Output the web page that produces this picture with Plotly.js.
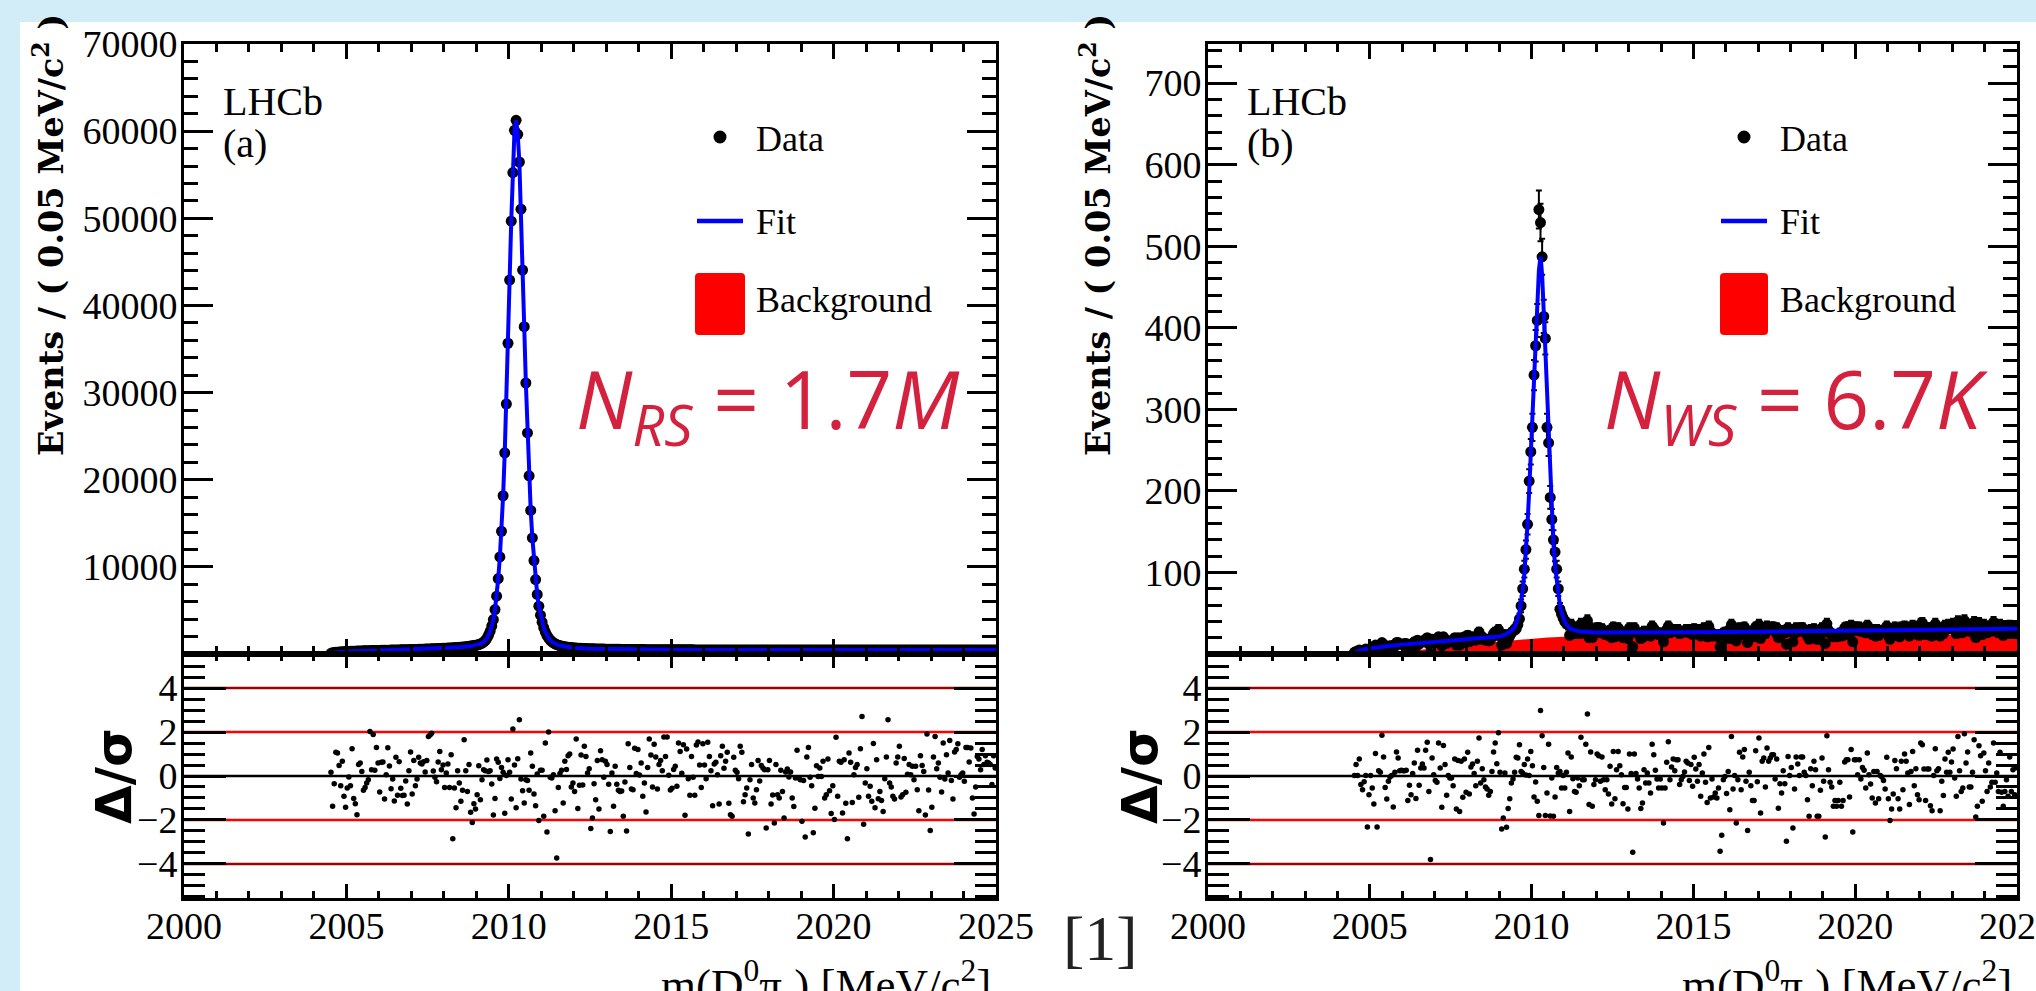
<!DOCTYPE html>
<html>
<head>
<meta charset="utf-8">
<script src="https://cdn.plot.ly/plotly-3.0.1.min.js"></script>
<style>
html,body{margin:0;padding:0;background:#ffffff;}
#chart{width:2036px;height:991px;}
</style>
</head>
<body>
<div id="chart"></div>
<script>
// ---------------- binning ----------------
const binStart = 2004.5;
const binWidth = 0.05;

// ---------------- axis ticks ----------------
const massTicks = [2000, 2005, 2010, 2015, 2020, 2025];
const rsTicks = [10000, 20000, 30000, 40000, 50000, 60000, 70000];
const wsTicks = [100, 200, 300, 400, 500, 600, 700];
const pullTicks = [-4, -2, 0, 2, 4];
const pullLines = [4, 2, 0, -2, -4];

// ---------------- (a) right-sign data (events per bin) ----------------
const dataRS = [
80,130,165,190,205,222,238,252,268,285,
292,300,305,312,320,325,333,340,345,352,
362,365,372,378,382,388,395,398,402,408,
412,418,422,428,433,438,442,448,452,458,
462,468,472,478,482,488,492,498,502,508,
512,518,525,530,536,543,550,556,562,568,
575,582,590,598,606,614,622,630,638,646,
655,665,676,688,700,712,724,736,748,762,
778,795,815,838,865,893,920,945,968,990,
1030,1080,1150,1240,1370,1550,1800,2150,2600,3200,
3950,5100,6630,8660,11140,14080,18160,23080,28690,35660,
42910,49670,55250,60090,61240,59630,56460,51040,44060,37560,
31100,25370,20450,16480,13320,10720,8540,6830,5490,4450,
3650,3020,2520,2130,1830,1600,1420,1280,1170,1080,
1010,955,905,865,830,800,775,752,732,715,
700,686,673,662,651,641,632,624,616,609,
602,596,590,585,580,575,571,567,563,559,
556,552,549,546,543,540,537,535,532,530,
527,525,523,521,519,517,515,513,511,510,
508,506,505,503,502,500,499,497,496,495,
494,492,491,490,489,488,487,486,485,484,
483,482,481,481,480,479,478,478,477,476,
476,475,474,474,473,473,472,471,471,470,
470,469,469,468,468,467,467,466,466,466,
465,465,464,464,464,463,463,463,462,462,
462,461,461,461,460,460,460,460,459,459,
459,459,459,459,459,459,459,459,459,459,
459,459,459,459,459,459,459,459,459,459,
458,458,458,458,458,458,458,458,458,458,
458,458,458,458,458,458,458,458,458,458,
458,458,458,458,458,458,458,458,458,458,
458,458,458,458,458,458,458,458,458,458,
458,458,458,458,458,458,458,458,458,458,
458,458,458,458,458,458,458,458,458,458,
458,458,458,458,458,458,458,458,458,458,
458,458,458,458,458,458,458,458,458,458,
458,458,458,458,458,458,458,458,458,458,
458,458,458,458,458,458,458,458,458,458,
458,458,458,458,458,458,458,458,458,458,
458,458,458,458,458,458,458,458,458,458,
458,458,458,458,458,458,458,458,458,458
];
const pullRS = [
0.17,-1.38,-0.35,1.08,1.05,0.48,-0.44,0.67,-0.92,
-1.42,-0.55,-0.05,-0.44,1.24,-1.02,-1.26,-1.76,0.52,0.59,
0.21,-0.65,-0.52,-0.32,-0.17,2.03,0.29,1.89,0.26,1.30,
0.59,-0.73,0.62,0.64,-1.05,0.06,1.29,0.45,-0.58,-0.14,
-1.14,0.85,-0.88,0.65,-0.56,-0.89,-0.88,-0.23,-1.27,0.24,
1.09,-0.82,0.71,-0.44,-0.14,0.85,0.59,0.55,0.65,0.18,
0.70,1.80,1.86,1.95,0.23,-0.06,-0.26,0.64,1.12,0.29,
0.50,-0.52,0.14,0.55,-0.52,0.97,-2.86,-0.55,-1.45,0.24,
-0.32,-1.15,-0.65,1.65,0.24,-0.71,0.52,-1.65,-2.11,-1.26,
-1.50,-0.85,0.47,-1.08,-0.17,0.29,0.24,0.73,0.21,0.24,
-0.36,-1.77,-1.02,0.77,0.62,-0.11,0.39,0.17,-1.70,0.02,
0.74,0.17,-1.05,2.14,0.50,-1.45,0.79,2.56,-0.14,-0.67,
-1.23,-0.17,-0.21,-0.65,1.05,0.44,-0.82,-1.35,0.09,-2.02,
0.26,0.26,-1.83,1.50,-2.55,2.0,
-0.06,-0.09,0.06,-1.58,-3.73,-0.52,0.11,0.26,-1.23,0.67,
0.30,0.92,1.00,-0.50,-0.32,-0.70,1.68,-1.48,-0.42,0.95,
-0.41,1.35,0.89,0.14,0.33,-2.39,-1.91,-0.35,-1.08,0.70,
-1.50,1.15,0.74,-0.06,0.67,0.52,-0.38,-2.53,0.14,-1.38,
0.44,-0.38,-0.65,-0.70,-0.68,-1.83,-0.27,-2.50,1.47,0.39,
-0.59,-0.62,1.26,0.11,1.20,0.05,0.59,-0.92,-0.32,-1.64,
0.39,1.68,0.95,-0.50,1.45,0.86,-0.59,0.52,0.70,0.24,
1.77,0.89,1.77,0.03,-0.64,-0.56,0.30,0.44,-0.47,1.50,
1.12,0.12,1.42,-1.79,1.23,-0.12,-0.88,0.89,-0.06,-0.88,
1.41,1.55,0.50,-0.52,1.47,0.50,-0.12,1.53,0.89,0.24,
-1.35,0.55,0.62,0.06,-1.27,0.92,1.35,0.35,0.67,1.08,
-1.24,-1.76,-1.83,0.85,0.26,0.17,-0.12,1.35,1.08,-1.17,
-0.85,-0.55,-2.64,-0.17,0.52,-1.00,-1.23,-0.62,0.70,-0.23,
0.48,0.36,0.29,-2.36,0.29,0.71,-1.27,-0.86,-2.14,
0.52,-0.85,-1.0,0.26,-0.70,-1.91,0.18,0.32,-0.05,0.18,
-1.0,-1.39,-0.09,1.17,-0.09,-0.17,-2.06,-0.21,-2.77,0.86,
1.30,-0.06,-0.44,-2.58,-1.47,0.47,-0.02,0.36,-0.02,0.67,
-1.0,-0.85,0.77,-0.67,-1.71,-0.44,-1.98,1.76,-0.92,0.67,
0.62,-1.68,0.74,-1.24,-2.86,1.05,0.62,-1.20,0.06,0.39,
0.52,-0.97,1.24,2.71,-2.20,-0.32,0.33,-0.92,-0.47,-1.15,
1.48,-1.45,0.74,-1.03,-0.70,-1.11,-1.61,-0.12,0.86,2.56,
-0.32,-0.50,-0.92,-1.05,0.59,0.86,1.35,-0.95,-0.85,0.80,
-0.74,0.08,0.52,0.06,0.44,-0.17,0.44,-0.62,-1.58,0.92,
0.48,0.21,-1.77,1.91,-0.64,-2.48,-1.42,0.86,1.80,0.33,
0.59,-0.06,-0.73,1.50,-0.14,0.97,0.14,1.62,-0.21,-1.05,
1.09,1.20,1.47,-0.06,0.06,0.14,-0.24,1.30,1.30,0.64,
1.27,-1.0,-1.73,-0.50,0.89,0.77,0.29,1.20,0.52,0.92,
0.62,0.59,0.52,-0.39,0.92,0.36
];
const fitRS_x = [2004.45,2004.55,2004.65,2004.8,2005.0,2005.5,2006.0,2006.5,2007.0,2007.5,2008.0,2008.5,2008.8,2009.0,
2009.125,2009.225,2009.325,2009.425,2009.475,2009.525,2009.575,2009.625,2009.675,2009.725,2009.775,2009.825,2009.875,
2009.925,2009.975,2010.025,2010.075,2010.125,2010.175,2010.225,2010.275,2010.325,2010.375,2010.425,2010.475,2010.525,
2010.575,2010.625,2010.675,2010.725,2010.775,2010.825,2010.875,2010.925,2010.975,2011.025,2011.075,2011.125,2011.225,
2011.325,2011.425,2011.525,2011.7,2012.0,2012.5,2013.0,2014.0,2015.0,2016.0,2017.0,2019.0,2022.0,2025.0];
const fitRS_y = [0,110,170,230,290,355,410,460,510,572,650,775,880,1010,
1150,1370,1800,2600,3200,3950,5100,6630,8660,11140,14080,18160,23080,
28690,35660,42910,49670,55250,60090,61240,59630,56460,51040,44060,37560,31100,
25370,20450,16480,13320,10720,8540,6830,5490,4450,3650,3020,2520,1830,
1420,1170,1010,880,700,600,556,508,483,470,462,458,457,458];
const bkgRS_x = [2005.8,2006.5,2007.5,2008.5,2009.5,2010.5,2012.0,2015.0,2020.0,2025.0];
const bkgRS_y = [0,60,110,150,180,200,210,215,220,225];

// ---------------- (b) wrong-sign data (events per bin) ----------------
const dataWS = [
2,3,3,5,4,4,5,6,1,5,
7,6,4,11,2,9,9,14,12,8,
6,9,10,10,6,11,14,14,12,12,
12,13,13,8,11,10,13,15,9,17,
12,15,16,15,18,20,12,1,18,15,
14,14,21,17,10,21,18,13,16,16,
16,15,20,11,20,11,20,14,21,15,
23,15,20,21,19,17,22,27,18,21,
19,17,17,16,17,21,25,27,23,30,
23,11,14,24,13,18,22,26,28,30,
31,36,43,59,80,104,128,159,212,248,
278,342,378,409,545,529,487,414,387,278,
259,192,165,140,125,104,80,55,49,44,
40,38,36,23,36,29,25,25,28,25,
37,26,26,34,41,20,32,20,25,26,
32,32,26,31,26,24,26,23,29,20,
33,21,28,32,29,27,20,24,24,19,
32,27,9,32,27,26,24,19,20,28,
25,27,25,22,34,31,28,26,24,26,
24,15,24,30,34,26,29,30,28,30,
30,25,26,27,28,30,30,26,30,24,
31,28,26,30,22,28,32,25,21,34,
22,26,22,23,22,24,9,13,26,27,
23,28,19,36,24,27,16,26,32,24,
31,33,26,14,28,24,21,21,33,25,
36,19,31,32,25,34,31,32,33,33,
27,32,20,26,24,29,26,12,32,28,
30,15,25,32,31,28,32,32,29,28,
22,18,30,25,31,29,18,18,24,32,
27,13,37,29,26,25,21,22,21,22,
26,22,23,32,33,33,24,35,15,33,
33,29,33,28,31,30,26,35,29,27,
24,30,22,30,23,29,29,28,26,34,
23,18,21,25,33,31,23,21,33,26,
34,33,30,22,30,35,27,31,24,23,
37,38,32,24,32,32,23,22,30,37,
32,32,22,29,25,35,31,36,31,34,
37,30,25,40,32,26,27,41,34,36,
28,28,31,39,20,23,38,35,24,36,
32,26,34,28,29,39,29,31,26,36,
26,23,26,29,25,35,27,32,26,33
];
const pullWS = [
0.02,0.52,0.02,0.77,-0.39,-0.62,-0.26,0.02,-2.32,-0.85,
0.02,-0.55,-1.27,1.02,-2.32,0.24,0.17,1.85,0.86,-0.52,
-1.05,-0.24,-0.05,0.02,-1.41,0.17,1.09,0.82,0.24,0.26,
0.24,0.24,0.26,-1.12,-0.42,-0.85,0.11,0.59,-1.02,1.17,
-0.42,0.36,0.55,0.36,1.17,1.53,-0.70,-3.80,0.82,0.06,
-0.21,-0.29,1.50,0.36,-1.42,1.39,0.52,-0.88,0.02,-0.09,
-0.09,-0.44,0.77,-1.50,0.71,-1.61,0.67,-0.97,0.77,-0.74,
1.08,-0.82,0.41,0.55,0.11,-0.44,0.67,1.73,-0.32,0.33,
-0.17,-0.50,-0.59,-0.88,-0.70,0.21,1.09,1.50,0.56,1.97,
0.17,-2.41,-1.91,0.14,-2.33,-1.48,-1.03,-0.32,-0.14,0.17,
0.85,0.82,1.42,0.21,0.14,0.52,0.05,0.77,0.02,1.12,
0.47,-0.95,-0.27,-1.15,-1.80,2.98,1.83,0.39,-1.80,-0.77,
1.44,-1.82,-0.09,-1.83,-0.95,0.39,0.14,0.20,-0.55,0.02,
-0.55,0.17,1.05,-1.61,0.86,
-0.12,-0.70,-0.74,-0.09,-0.44,1.76,-0.17,-0.17,1.45,2.82,
-1.30,1.09,-1.38,-0.39,-0.17,1.00,0.92,-0.24,0.86,-0.17,
-0.62,-0.17,-0.82,0.44,-1.27,1.12,-1.03,0.29,1.12,0.47,
0.06,-1.26,-0.52,-0.52,-1.50,1.00,0.11,-3.47,1.00,0.11,
-0.14,-0.55,-1.48,-1.23,0.29,-0.32,0.14,-0.32,-0.77,1.45,
0.97,0.26,-0.14,-0.55,-0.14,-0.55,-2.14,-0.55,0.62,1.56,
-0.17,0.41,0.77,0.24,0.74,0.74,-0.39,-0.17,-0.02,0.18,
0.67,0.59,-0.21,0.52,-0.47,0.85,0.32,-0.24,0.52,-0.92,
0.14,1.00,-0.29,-1.20,1.30,-1.00,-0.14,-0.95,-0.77,-1.00,
-0.55,-3.42,-2.70,-0.17,-0.02,-0.80,0.21,-1.53,1.80,-0.59,
0.02,-2.14,-0.17,1.08,-0.62,0.86,1.20,-0.24,-2.48,0.17,
-0.44,-1.11,-1.12,1.15,-0.26,1.73,-1.68,0.67,0.82,-0.50,
1.27,0.67,0.82,0.97,0.97,-0.14,0.77,-1.47,-0.35,-0.77,
0.24,-0.35,-2.97,0.89,0.02,0.39,-2.36,
-0.59,0.86,0.55,0.02,0.86,0.86,0.17,0.02,-1.08,-1.83,
0.33,-0.44,0.67,0.29,-1.83,-1.83,-0.65,0.82,-0.24,-2.77,
1.83,0.29,-0.29,-0.50,-1.38,-1.12,-1.38,-1.12,-0.29,-1.38,
-1.12,0.64,0.74,0.74,-0.95,1.20,-2.55,0.74,0.74,0.06,
0.74,-0.14,0.39,0.26,-0.55,1.05,0.06,-0.36,-1.00,0.21,
-1.23,0.21,-1.03,0.02,-0.05,-0.20,-0.59,0.85,-1.03,-2.03,
-1.50,-0.82,0.70,0.33,-1.03,-1.50,0.67,-0.62,1.00,0.67,
0.14,-1.30,0.21,1.12,-0.44,0.33,-0.85,-1.08,1.50,1.42,
0.32,-1.11,0.32,0.32,-1.35,-1.58,0.02,1.24,0.24,0.33,
-1.58,-0.24,-0.89,0.77,0.17,1.08,0.17,0.64,1.23,-0.09,
-0.92,1.80,0.24,-0.70,-0.55,1.92,0.59,1.09,-0.50,-0.50,
0.17,1.65,-1.86,-1.38,1.38,0.92,-1.15,1.05,0.24,-0.70,
0.59,-0.50,-0.29,1.50,-0.29,0.14,-0.70,1.08,-0.74,-1.38,
-0.70,-0.17,-0.92,0.86,-0.70,0.29,-0.85,0.38
];
const fitWS_x = [2004.45,2004.6,2004.8,2005.0,2005.5,2006.0,2006.5,2007.0,2007.5,2008.0,2008.5,2008.8,2009.0,2009.2,
2009.35,2009.425,2009.475,2009.525,2009.575,2009.625,2009.675,2009.725,2009.775,2009.825,2009.875,2009.925,2009.975,
2010.025,2010.075,2010.125,2010.175,2010.225,2010.275,2010.325,2010.375,2010.425,2010.475,2010.525,2010.575,2010.625,
2010.675,2010.725,2010.775,2010.825,2010.875,2010.925,2010.975,2011.025,2011.1,2011.2,2011.35,2011.5,2012.0,2013.0,
2015.0,2017.0,2019.0,2021.0,2023.0,2025.0];
const fitWS_y = [0,3,5.5,7,9.5,11.5,13.3,15,16.5,18,19.5,20.5,21.5,24,
28,30,33,37,43,52,63,78,98,125,160,200,245,
290,335,380,425,470,487,465,420,370,315,262,212,170,
135,108,88,72,60,51,45,40,35,31,29,27.5,26.5,26.3,
26.6,27.4,28.4,29.4,30.2,31];
const bkgWS_x = [2005.8,2006.0,2006.5,2007.0,2007.5,2008.0,2008.5,2009.0,2009.5,2010.0,2010.5,2011.0,2013.0,2017.0,2021.0,2025.0];
const bkgWS_y = [0,2,5,7.5,9.8,11.8,13.6,15.4,17.2,18.8,20.2,21.2,22,22.5,23,23.5];

// ---------------- page geometry (pixels) ----------------
const W = 2036, H = 991;
const PX = v => v / W;
const PY = v => 1 - v / H;
const leftFrame = [184, 996];
const rightFrame = [1208, 2017];
const upperY = [44, 654];
const lowerY = [654, 898];

const centers = arr => arr.map((_, k) => +(binStart + binWidth * (k + 0.5)).toFixed(3));

const serif = 'Liberation Serif, Times New Roman, serif';
const FONT_TICK = {family: serif, size: 38, color: '#000'};
const BLUE = '#0000ff', RED = '#ff0000', DARKRED = '#990000';

function upperTraces(data, fitx, fity, bkgx, bkgy, xa, ya) {
  return [
    {x: bkgx, y: bkgy, xaxis: xa, yaxis: ya, type: 'scatter', mode: 'lines', fill: 'tozeroy',
     fillcolor: RED, line: {color: RED, width: 0}, hoverinfo: 'skip', showlegend: false},
    {x: centers(data), y: data, xaxis: xa, yaxis: ya, type: 'scatter', mode: 'markers',
     marker: {color: '#000', size: 11}, error_y: {type: 'sqrt', visible: true, color: '#000', thickness: 2, width: 3},
     hoverinfo: 'skip', showlegend: false},
    {x: fitx, y: fity, xaxis: xa, yaxis: ya, type: 'scatter', mode: 'lines',
     line: {color: BLUE, width: 4}, hoverinfo: 'skip', showlegend: false}
  ];
}
function pullTrace(pull, xa, ya) {
  return {x: centers(pull), y: pull, xaxis: xa, yaxis: ya, type: 'scatter', mode: 'markers',
    marker: {color: '#000', size: 5.5}, hoverinfo: 'skip', showlegend: false};
}

const traces = [
  ...upperTraces(dataRS, fitRS_x, fitRS_y, bkgRS_x, bkgRS_y, 'x', 'y'),
  pullTrace(pullRS, 'x2', 'y2'),
  ...upperTraces(dataWS, fitWS_x, fitWS_y, bkgWS_x, bkgWS_y, 'x3', 'y3'),
  pullTrace(pullWS, 'x4', 'y4')
];

const fmtTick = v => (v < 0 ? '\u2212' + Math.abs(v) : String(v));

function xAxis(frame, anchor, labels, len, mlen) {
  return {
    domain: [PX(frame[0]), PX(frame[1])], anchor: anchor, range: [2000, 2025],
    tickmode: 'array', tickvals: massTicks, ticktext: massTicks.map(fmtTick), showticklabels: labels,
    ticks: 'inside', ticklen: len, tickwidth: 3, tickcolor: '#000',
    minor: {ticks: 'inside', ticklen: mlen, tickwidth: 3, tickcolor: '#000', tickmode: 'linear', tick0: 2000, dtick: 1},
    showline: true, linewidth: 3, linecolor: '#000', mirror: 'allticks',
    showgrid: false, zeroline: false, tickfont: FONT_TICK, ticklabelstandoff: -8,
    ticklabeloverflow: 'allow', fixedrange: true
  };
}
function yAxis(yDom, anchor, range, tickvals, mdtick, len, mlen) {
  return {
    domain: [PY(yDom[1]), PY(yDom[0])], anchor: anchor, range: range,
    tickmode: 'array', tickvals: tickvals, ticktext: tickvals.map(fmtTick),
    ticks: 'inside', ticklen: len, tickwidth: 3, tickcolor: '#000',
    minor: {ticks: 'inside', ticklen: mlen, tickwidth: 3, tickcolor: '#000', tickmode: 'linear', tick0: 0, dtick: mdtick},
    showline: true, linewidth: 3, linecolor: '#000', mirror: 'allticks',
    showgrid: false, zeroline: false, tickfont: FONT_TICK, ticklabelstandoff: -4, fixedrange: true
  };
}

// ---------------- shapes ----------------
const shapes = [
  {type: 'rect', xref: 'paper', yref: 'paper', x0: PX(20), x1: 1, y0: 0, y1: PY(22),
   fillcolor: '#ffffff', line: {width: 0}, layer: 'below'}
];
[['x2', 'y2'], ['x4', 'y4']].forEach(([xa, ya]) => {
  pullLines.forEach(v => {
    const col = v === 0 ? '#000' : (Math.abs(v) === 4 ? DARKRED : RED);
    shapes.push({type: 'line', xref: xa + ' domain', yref: ya, x0: 0, x1: 1, y0: v, y1: v,
      line: {color: col, width: 2.5}, layer: 'below'});
  });
});
function roundRect(x0, y0, x1, y1, r) {
  const a = PX(x0), b = PX(x1), t = PY(y0), u = PY(y1);
  const rx = r / W, ry = r / H;
  return `M ${a + rx} ${t} L ${b - rx} ${t} Q ${b} ${t} ${b} ${t - ry} L ${b} ${u + ry} Q ${b} ${u} ${b - rx} ${u} ` +
         `L ${a + rx} ${u} Q ${a} ${u} ${a} ${u + ry} L ${a} ${t - ry} Q ${a} ${t} ${a + rx} ${t} Z`;
}
function legendShapes(markX, lineX0, lineX1, boxX0, boxX1) {
  const r = 6.5;
  return [
    {type: 'circle', xref: 'paper', yref: 'paper', x0: PX(markX - r), x1: PX(markX + r), y0: PY(137 + r), y1: PY(137 - r),
     fillcolor: '#000', line: {width: 0}},
    {type: 'line', xref: 'paper', yref: 'paper', x0: PX(lineX0), x1: PX(lineX1), y0: PY(221), y1: PY(221),
     line: {color: BLUE, width: 4.5}},
    {type: 'path', xref: 'paper', yref: 'paper', path: roundRect(boxX0, 273, boxX1, 335, 4),
     fillcolor: RED, line: {width: 0}}
  ];
}
shapes.push(...legendShapes(720, 697, 743, 695, 745));
shapes.push(...legendShapes(1744, 1721, 1767, 1720, 1768));

// ---------------- annotations ----------------
const ann = [];
function txt(text, x, y, size, opts) {
  ann.push(Object.assign({text: text, x: PX(x), y: PY(y), xref: 'paper', yref: 'paper', showarrow: false,
    xanchor: 'left', yanchor: 'middle', font: {family: serif, size: size, color: '#000'}}, opts || {}));
}
[[184, 996, 'LHCb', '(a)', '<i>N</i><sub><i>RS</i></sub> = 1.7<i>M</i>', 962, 49, 114, 720],
 [1208, 2017, 'LHCb', '(b)', '<i>N</i><sub><i>WS</i></sub> = 6.7<i>K</i>', 1990, 1096, 1140, 1744]].forEach(p => {
  const [f0, f1, lhcb, tag, nText, nRight, evX, pullX, legX] = p;
  txt(lhcb, f0 + 37, 102, 40);
  txt(tag, f0 + 37, 143, 40);
  txt('Data', legX + 34, 139, 36);
  txt('Fit', legX + 34, 222, 36);
  txt('Background', legX + 34, 300, 36);
  txt(nText, nRight, 402, 80, {xanchor: 'right', font: {family: 'Open Sans, Noto Sans, sans-serif', size: 80, color: '#d4213d'}});
  txt('<b>Events / ( 0.05 MeV/c<sup>2</sup> )</b>', evX, 458, 33.5,
      {textangle: -90, xanchor: 'center', yanchor: 'bottom', font: {family: 'DejaVu Serif, serif', size: 33.5, color: '#000'}});
  txt('<b>Δ/σ</b>', pullX, 776, 50, {textangle: -90, xanchor: 'center', font: {family: 'DejaVu Sans, sans-serif', size: 50, color: '#000'}});
  txt('m(D<sup>0</sup>π<sub>s</sub>) [MeV/c<sup>2</sup>]', f1 - 3, 951, 45, {xanchor: 'right', yanchor: 'top'});
});
txt('[1]', 1100, 938, 64, {xanchor: 'center', font: {family: serif, size: 64, color: '#222'}});

const layout = {
  width: W, height: H,
  margin: {l: 0, r: 0, t: 0, b: 0, pad: 0},
  paper_bgcolor: '#d3edf8',
  plot_bgcolor: 'rgba(0,0,0,0)',
  showlegend: false,
  xaxis: xAxis(leftFrame, 'y', false, 15, 8),
  yaxis: yAxis(upperY, 'x', [0, 70000], rsTicks, 2000, 29, 14),
  xaxis2: xAxis(leftFrame, 'y2', true, 14, 7),
  yaxis2: yAxis(lowerY, 'x2', [-5.55, 5.55], pullTicks, 0.5, 42, 21),
  xaxis3: xAxis(rightFrame, 'y3', false, 15, 8),
  yaxis3: yAxis(upperY, 'x3', [0, 748], wsTicks, 20, 29, 14),
  xaxis4: xAxis(rightFrame, 'y4', true, 14, 7),
  yaxis4: yAxis(lowerY, 'x4', [-5.55, 5.55], pullTicks, 0.5, 42, 21),
  shapes: shapes,
  annotations: ann
};

Plotly.newPlot('chart', traces, layout, {staticPlot: true, displayModeBar: false});
</script>
</body>
</html>
